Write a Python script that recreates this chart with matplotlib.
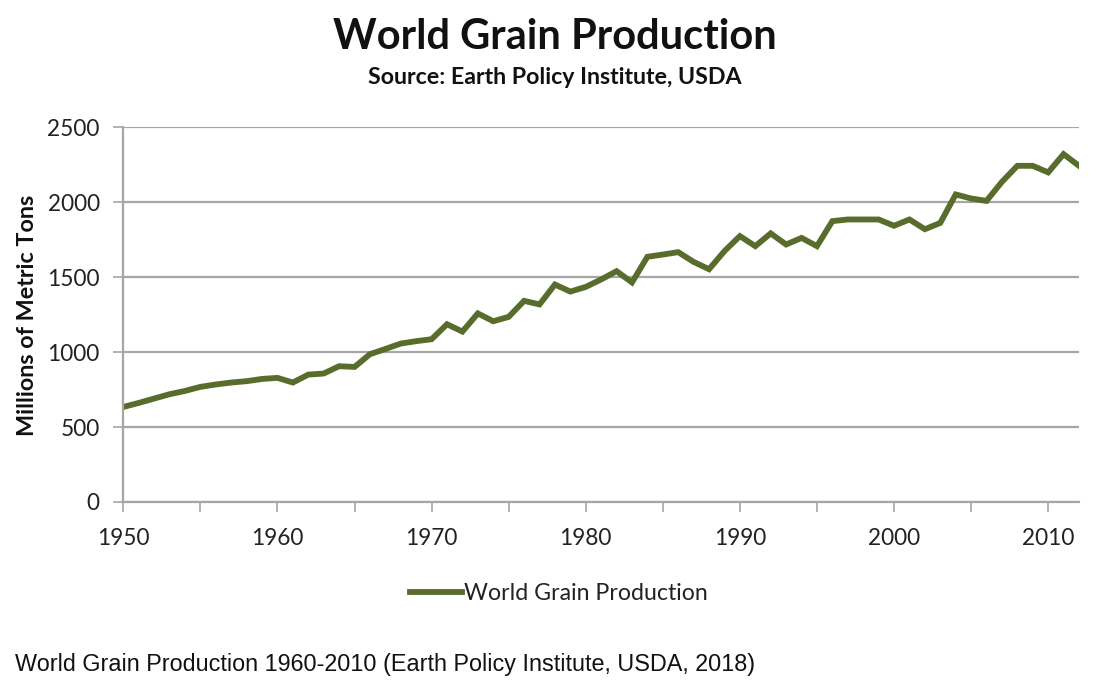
import matplotlib
matplotlib.use("Agg")
import matplotlib.pyplot as plt
from matplotlib.lines import Line2D

years = list(range(1950, 2013))
production = [634, 661, 690, 719, 741, 768, 784, 797, 806, 821,
              828, 797, 850, 857, 906, 901, 986, 1021, 1057, 1073,
              1086, 1186, 1137, 1258, 1206, 1235, 1342, 1318, 1451, 1404,
              1435, 1485, 1540, 1465, 1636, 1651, 1667, 1602, 1553, 1674,
              1774, 1707, 1792, 1718, 1762, 1707, 1874, 1885, 1885, 1885,
              1843, 1885, 1820, 1862, 2052, 2025, 2009, 2136, 2243, 2243,
              2199, 2321, 2243]
y_ticks = [0, 500, 1000, 1500, 2000, 2500]
x_label_ticks = [1950, 1960, 1970, 1980, 1990, 2000, 2010]
x_minor_ticks = list(range(1950, 2013, 5))

title = "World Grain Production"
subtitle = "Source: Earth Policy Institute, USDA"
ylabel = "Millions of Metric Tons"
series_name = "World Grain Production"
caption = "World Grain Production 1960-2010 (Earth Policy Institute, USDA, 2018)"

LINE = "#586d2c"
GRID = "#a6a6a6"
FONT = "Lato"

fig = plt.figure(figsize=(10.99, 6.90), dpi=100)
ax = fig.add_axes([0.1122, 0.2725, 0.9818 - 0.1122, 0.8155 - 0.2725])

ax.plot(years, production, color=LINE, lw=4.2, solid_joinstyle="miter")
ax.set_xlim(1950, 2012)
ax.set_ylim(0, 2500)
ax.set_yticks(y_ticks)
ax.set_yticklabels([str(v) for v in y_ticks], fontfamily=FONT, fontsize=16.3, color="#222222")
ax.set_xticks(x_minor_ticks)
ax.set_xticklabels([str(v) if v in x_label_ticks else "" for v in x_minor_ticks],
                   fontfamily=FONT, fontsize=16.3, color="#222222")
ax.tick_params(axis="both", direction="out", length=7, width=1.2, color=GRID)
ax.tick_params(axis="x", pad=12)
ax.tick_params(axis="y", pad=10)
ax.yaxis.grid(True, color=GRID, lw=1.6)
ax.set_axisbelow(True)
for s in ["top", "right"]:
    ax.spines[s].set_visible(False)
ax.spines["bottom"].set_color(GRID)
ax.spines["left"].set_color(GRID)
ax.spines["bottom"].set_linewidth(1.6)
ax.spines["left"].set_linewidth(1.6)

fig.text(28 / 1099, 1 - 315 / 690, ylabel, rotation=90, ha="center", va="center",
         fontfamily=FONT, fontweight="bold", fontsize=16.8, color="#111111")
fig.text(555 / 1099, 1 - 37 / 690, title, ha="center", va="center",
         fontfamily=FONT, fontweight="bold", fontsize=30, color="#111111")
fig.text(555 / 1099, 1 - 77 / 690, subtitle, ha="center", va="center",
         fontfamily=FONT, fontweight="bold", fontsize=16.7, color="#111111")

handle = Line2D([], [], color=LINE, lw=4.2)
fig.legend([handle], [series_name], loc="center", bbox_to_anchor=(559 / 1099, 1 - 594 / 690),
           frameon=False, prop={"family": FONT, "size": 16.7}, handlelength=2.25,
           handletextpad=0.1, labelcolor="#222222")

fig.text(15 / 1099, 1 - 665 / 690, caption, ha="left", va="center",
         fontfamily="Liberation Sans", fontsize=16.8, color="#111111")

fig.savefig("out.png", dpi=100)
